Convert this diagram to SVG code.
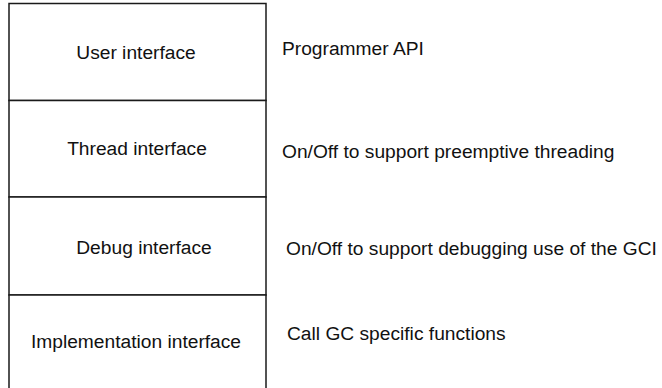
<svg xmlns="http://www.w3.org/2000/svg" width="662" height="388" viewBox="0 0 662 388">
  <style>
    .layer { fill: #ffffff; stroke: #1a1a1a; stroke-width: 1.5; }
    .name { font-family: "Liberation Sans", Arial, sans-serif; font-size: 19.2px; fill: #111111; text-anchor: middle; }
    .note { font-family: "Liberation Sans", Arial, sans-serif; font-size: 19.2px; fill: #111111; }
  </style>
  <rect width="662" height="388" fill="#ffffff"/>
  <!-- stacked interface layers; the bottom layer runs off the page -->
  <g id="user-interface">
    <rect class="layer" x="9" y="3.5" width="257" height="97"/>
    <text class="name" x="136" y="59">User interface</text>
  </g>
  <g id="thread-interface">
    <rect class="layer" x="9" y="100.5" width="257" height="96.5"/>
    <text class="name" x="137" y="155">Thread interface</text>
  </g>
  <g id="debug-interface">
    <rect class="layer" x="9" y="197" width="257" height="98"/>
    <text class="name" x="144" y="254">Debug interface</text>
  </g>
  <g id="implementation-interface">
    <rect class="layer" x="9" y="295" width="257" height="110"/>
    <text class="name" x="136" y="348">Implementation interface</text>
  </g>
  <!-- descriptions beside each layer -->
  <g id="notes">
    <text class="note" x="282" y="55">Programmer API</text>
    <text class="note" x="282" y="158">On/Off to support preemptive threading</text>
    <text class="note" x="286" y="255">On/Off to support debugging use of the GCI</text>
    <text class="note" x="287" y="340">Call GC specific functions</text>
  </g>
</svg>
